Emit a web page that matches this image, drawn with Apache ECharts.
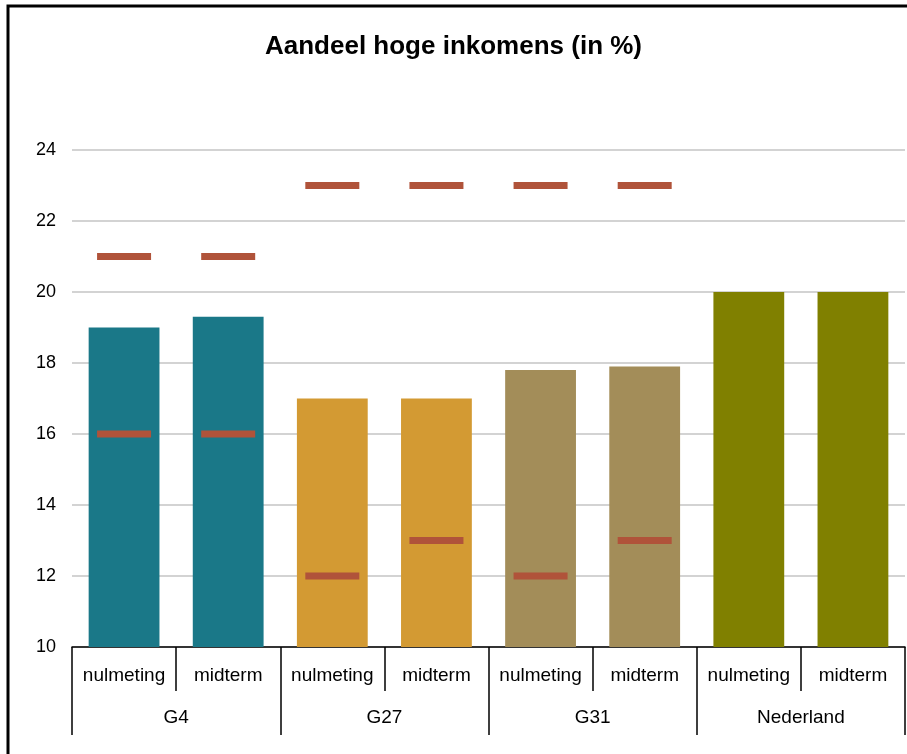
<!DOCTYPE html>
<html>
<head>
<meta charset="utf-8">
<script src="https://cdn.jsdelivr.net/npm/echarts@6/dist/echarts.min.js"></script>
<style>
  html, body { margin: 0; padding: 0; background: #fff; }
  #chart { width: 907px; height: 754px; }
</style>
</head>
<body>
<div id="chart"></div>
<script>
// data
const periods = ['nulmeting', 'midterm', 'nulmeting', 'midterm', 'nulmeting', 'midterm', 'nulmeting', 'midterm'];
const groups = ['G4', 'G27', 'G31', 'Nederland'];
const shares = [19.0, 19.3, 17.0, 17.0, 17.8, 17.9, 20.0, 20.0];
const upper = [21.0, 21.0, 23.0, 23.0, 23.0, 23.0, null, null];
const lower = [16.0, 16.0, 12.0, 13.0, 12.0, 13.0, null, null];
const groupColors = ['#1a7888', '#d39a33', '#a38d59', '#808000'];

const font = 'Liberation Sans, Arial, sans-serif';
const markColor = '#b0533a';

const barData = shares.map((v, i) => ({
    value: v,
    itemStyle: { color: groupColors[Math.floor(i / 2)] }
}));

const chart = echarts.init(document.getElementById('chart'));
chart.setOption({
    animation: false,
    textStyle: { fontFamily: font },
    title: {
        text: 'Aandeel hoge inkomens (in %)',
        left: 'center',
        top: 29,
        textStyle: { fontFamily: font, fontSize: 26, fontWeight: 'bold', color: '#000' }
    },
    graphic: [{
        type: 'rect',
        shape: { x: 8, y: 6, width: 1000, height: 1000 },
        style: { fill: 'none', stroke: '#000', lineWidth: 3 },
        silent: true
    }],
    grid: { left: 72, right: 2, top: 150, bottom: 107 },
    xAxis: [{
        type: 'category',
        data: periods,
        axisLine: { show: true, lineStyle: { color: '#000', width: 1.5 } },
        axisTick: { show: true, interval: 0, length: 44, lineStyle: { color: '#000', width: 1.5 } },
        axisLabel: { interval: 0, margin: 19, fontSize: 19, color: '#000', fontFamily: font }
    }, {
        type: 'category',
        data: groups,
        position: 'bottom',
        axisLine: { show: false },
        axisTick: { show: true, interval: 0, length: 88, lineStyle: { color: '#000', width: 1.5 } },
        axisLabel: { interval: 0, margin: 61, fontSize: 19, color: '#000', fontFamily: font }
    }],
    yAxis: {
        type: 'value',
        min: 10,
        max: 24,
        interval: 2,
        axisLine: { show: false },
        axisTick: { show: false },
        splitLine: { lineStyle: { color: '#c4c4c4', width: 1.5 } },
        axisLabel: { fontSize: 18, color: '#000', margin: 16, fontFamily: font }
    },
    series: [{
        type: 'bar',
        xAxisIndex: 0,
        data: barData,
        barWidth: '68%'
    }, {
        type: 'scatter',
        xAxisIndex: 0,
        data: upper,
        symbol: 'rect',
        symbolSize: [54, 7],
        itemStyle: { color: markColor, opacity: 1 },
        z: 5
    }, {
        type: 'scatter',
        xAxisIndex: 0,
        data: lower,
        symbol: 'rect',
        symbolSize: [54, 7],
        itemStyle: { color: markColor, opacity: 1 },
        z: 5
    }]
});
</script>
</body>
</html>
